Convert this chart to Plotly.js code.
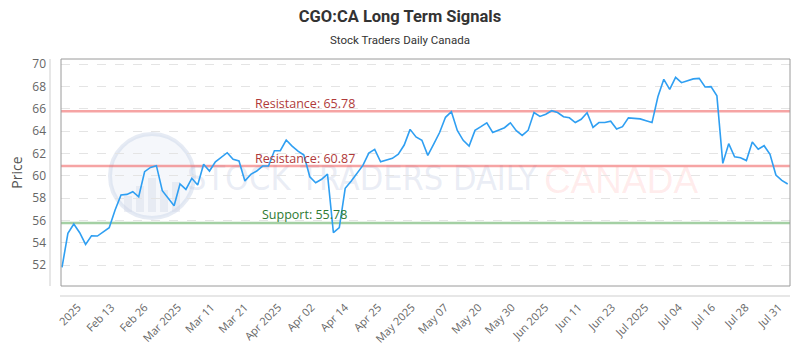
<!DOCTYPE html>
<html>
<head>
<meta charset="utf-8">
<script src="https://cdn.plot.ly/plotly-3.0.1.min.js"></script>
<style>
html,body{margin:0;padding:0;background:#fff;}
#chart{width:800px;height:350px;}
</style>
</head>
<body>
<div id="chart"></div>
<script>
// ---- data ----
const prices = [
  51.8, 54.84, 55.68, 54.9, 53.86, 54.63, 54.6, 54.99, 55.35, 56.93, 58.27, 58.33, 58.57, 58.12, 60.36, 60.75, 60.9, 58.66, 57.98, 57.32, 59.26,
  58.78, 59.77, 59.17, 61.02, 60.42, 61.25, 61.64, 62.06, 61.47, 61.32, 59.53, 60.12, 60.42, 60.87, 60.87, 62.24, 62.24, 63.2, 62.65, 62.2,
  61.85, 59.91, 59.37, 59.68, 60.15, 54.9, 55.35, 58.87, 59.5, 60.18, 60.92, 62.03, 62.36, 61.25, 61.4, 61.56, 61.94, 62.75, 64.15, 63.47,
  63.17, 61.82, 62.83, 63.87, 65.23, 65.73, 64.06, 63.17, 62.66, 64.06, 64.39, 64.74, 63.88, 64.09, 64.3, 64.74, 64.03, 63.61, 64.06, 65.66, 65.31,
  65.5, 65.82, 65.66, 65.28, 65.19, 64.76, 65.05, 65.64, 64.33, 64.76, 64.76, 64.88, 64.18, 64.39, 65.18, 65.14, 65.09, 64.92, 64.76,
  67.07, 68.63, 67.73, 68.81, 68.33, 68.5, 68.67, 68.72, 67.95, 67.98, 67.15, 61.11, 62.87, 61.7, 61.61, 61.36, 63.01, 62.37, 62.69, 61.92, 60.06, 59.58, 59.26
];
const tickLabels = ["2025","Feb 13","Feb 26","Mar 2025","Mar 11","Mar 21","Apr 2025","Apr 02","Apr 14","Apr 25","May 2025","May 07","May 20","May 30","Jun 2025","Jun 11","Jun 23","Jul 2025","Jul 04","Jul 16","Jul 28","Jul 31"];
const levelNames = ["Resistance", "Resistance", "Support"];
const levelValues = [65.78, 60.87, 55.78];
const yTicks = [52, 54, 56, 58, 60, 62, 64, 66, 68, 70];

// ---- geometry helpers (pixel -> paper) ----
const L = 61, R = 790, T = 59, B = 286;
const px = x => (x - L) / (R - L);
const py = y => (B - y) / (B - T);

const xIdx = prices.map((_, i) => i);
const tickStart = 2.7, tickStep = (121.5 - 2.7) / (tickLabels.length - 1);
const tickVals = tickLabels.map((_, k) => tickStart + k * tickStep);

const levelStyle = [
  {line: 'rgba(238,90,90,0.55)', text: '#b03a3a'},
  {line: 'rgba(238,90,90,0.55)', text: '#b03a3a'},
  {line: 'rgba(90,170,90,0.55)', text: '#2e7a32'}
];

const trace = {
  x: xIdx, y: prices, type: 'scatter', mode: 'lines',
  line: {color: '#2f9ff2', width: 1.6},
  hoverinfo: 'skip'
};

const shapes = [];
// watermark logo
shapes.push({type:'circle', xref:'paper', yref:'paper', x0:px(110), x1:px(194), y0:py(218), y1:py(134),
  line:{color:'rgba(200,210,230,0.45)', width:4}, fillcolor:'rgba(225,232,244,0.35)', layer:'below'});
[[124,196,8],[136,186,8],[148,178,8],[160,190,8],[172,182,8]].forEach(b=>{
  shapes.push({type:'rect', xref:'paper', yref:'paper', x0:px(b[0]), x1:px(b[0]+b[2]), y0:py(212), y1:py(b[1]),
    line:{width:0}, fillcolor:'rgba(205,212,228,0.35)', layer:'below'});
});
// watermark words (shape labels, drawn beneath the data)
shapes.push({type:'rect', xref:'paper', yref:'paper', x0:px(196), x1:px(528), y0:py(196), y1:py(156),
  line:{width:0}, fillcolor:'rgba(0,0,0,0)', layer:'below',
  label:{text:'STOCK TRADERS DAILY', textposition:'middle center',
    font:{family:'Liberation Sans Narrow, DejaVu Sans Condensed, sans-serif', size:34, color:'rgba(190,200,225,0.32)'}}});
shapes.push({type:'rect', xref:'paper', yref:'paper', x0:px(540), x1:px(702), y0:py(196), y1:py(156),
  line:{width:0}, fillcolor:'rgba(0,0,0,0)', layer:'below',
  label:{text:'CANADA', textposition:'middle center',
    font:{family:'Liberation Sans, Arial, sans-serif', size:37, color:'rgba(255,110,110,0.13)'}}});
// reference levels
levelValues.forEach((v, i) => {
  shapes.push({type:'line', xref:'paper', yref:'y', x0:0, x1:1, y0:v, y1:v,
    line:{color:levelStyle[i].line, width:2.5}, layer:'between'});
});
// frame
shapes.push({type:'rect', xref:'paper', yref:'paper', x0:0, x1:1, y0:0, y1:1, line:{color:'#9a9a9a', width:1}, layer:'above'});
// detached axis lines
shapes.push({type:'line', xref:'paper', yref:'paper', x0:px(50), x1:px(50), y0:0, y1:1, line:{color:'#cfcfcf', width:1}});
shapes.push({type:'line', xref:'paper', yref:'paper', x0:px(60), x1:1, y0:py(296), y1:py(296), line:{color:'#cfcfcf', width:1}});

const annotations = [];
levelValues.forEach((v, i) => {
  annotations.push({xref:'paper', yref:'y', x:px(304.5), y:v, yshift:8, showarrow:false,
    text: levelNames[i] + ': ' + v.toFixed(2),
    font:{family:'Open Sans, sans-serif', size:12.5, color:levelStyle[i].text}});
});
annotations.push({xref:'paper', yref:'paper', x:px(400), y:py(40), showarrow:false, xanchor:'center', yanchor:'middle',
  text:'Stock Traders Daily Canada', font:{family:'Roboto, sans-serif', size:11.5, color:'#333'}});

const layout = {
  width: 800, height: 350,
  margin: {l: L, r: 800 - R, t: T, b: 350 - B, pad: 0},
  paper_bgcolor: '#fff', plot_bgcolor: '#fff',
  showlegend: false,
  title: {text: '<b>CGO:CA Long Term Signals</b>', x: 0.5, xref: 'container', y: 1 - 16/350, yref: 'container', yanchor: 'middle',
    font: {family: 'Roboto, sans-serif', size: 16.5, color: '#333'}},
  xaxis: {range: [-0.17, 123.39], tickmode: 'array', tickvals: tickVals, ticktext: tickLabels, tickangle: -45,
    showgrid: false, zeroline: false, showline: false, ticks: '', ticklabelstandoff: 12, automargin: false,
    tickfont: {family: 'Open Sans, sans-serif', size: 11, color: '#666'}},
  yaxis: {range: [50.13, 70.45], tickmode: 'array', tickvals: yTicks, showgrid: true, gridcolor: '#e4e4e4', griddash: 'dash',
    zeroline: false, showline: false, ticks: '', ticklabelstandoff: 14, automargin: false,
    tickfont: {family: 'Open Sans, sans-serif', size: 12, color: '#666'},
    title: {text: 'Price', standoff: 6, font: {family: 'Open Sans, sans-serif', size: 14, color: '#555'}}},
  shapes: shapes,
  annotations: annotations
};

Plotly.newPlot('chart', [trace], layout, {staticPlot: true, displayModeBar: false});
</script>
</body>
</html>
